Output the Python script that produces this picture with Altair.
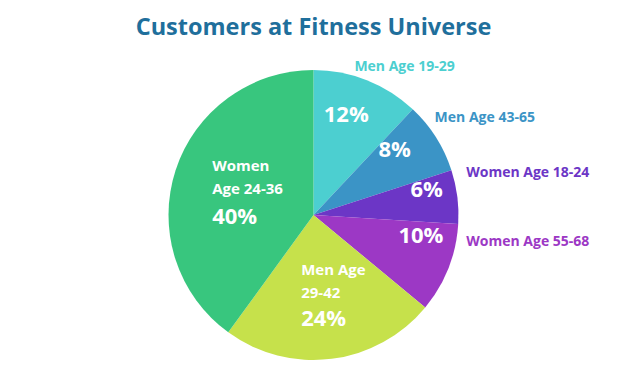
import math
import altair as alt
import pandas as pd

categories = ["Men Age 19-29", "Men Age 43-65", "Women Age 18-24",
              "Women Age 55-68", "Men Age 29-42", "Women Age 24-36"]
shares = [12, 8, 6, 10, 24, 40]
pct_labels = ["12%", "8%", "6%", "10%", "24%", "40%"]
colors = ["#4ccfd0", "#3b94c6", "#6c36c6", "#9c38c5", "#c6e14b", "#38c67e"]

df = pd.DataFrame({
    "category": categories,
    "share": shares,
    "pct": pct_labels,
    "idx": list(range(len(categories))),
})

FONT = "Open Sans"
theta_scale = alt.Scale(domain=[0, 100], range=[0, 2 * math.pi])
color_scale = alt.Scale(domain=categories, range=colors)

pie = alt.Chart(df).mark_arc(outerRadius=145).encode(
    theta=alt.Theta("share:Q", stack=True, scale=theta_scale),
    color=alt.Color("category:N", scale=color_scale, legend=None),
    order=alt.Order("idx:Q", sort="ascending"),
)


def label(cat, text, radius, dx, dy, size, color=None, align="center", line_height=None):
    kw = dict(radius=radius, dx=dx, dy=dy, align=align, baseline="middle",
              font=FONT, fontWeight="bold", fontSize=size)
    if line_height:
        kw["lineHeight"] = line_height
    enc = dict(theta=alt.Theta("mid:Q", scale=theta_scale), text=text)
    if color is None:
        enc["color"] = alt.Color("category:N", scale=color_scale, legend=None)
    else:
        kw["color"] = color
    return (
        alt.Chart(df)
        .transform_window(cum="sum(share)", sort=[alt.SortField("idx")], frame=[None, 0])
        .transform_calculate(mid="datum.cum - datum.share / 2")
        .transform_filter(alt.datum.category == cat)
        .mark_text(**kw)
        .encode(**enc)
    )


pct = alt.Text("pct:N")
name = alt.Text("category:N")
W = "white"

layers = [
    pie,
    # percentages inside small slices
    label("Men Age 19-29", pct, 108, -7, 0, 22, W),
    label("Men Age 43-65", pct, 108, -10, -7, 22, W),
    label("Women Age 18-24", pct, 108, 6, -11, 22, W),
    label("Women Age 55-68", pct, 108, 7, -19, 22, W),
    # big slices: name + percentage
    label("Women Age 24-36", alt.value(["Women", "Age 24-36"]), 75, -30, -26, 15, W, "left", 23),
    label("Women Age 24-36", pct, 75, -30, 25, 22, W, "left"),
    label("Men Age 29-42", alt.value(["Men Age", "29-42"]), 77, -22, -21, 15, W, "left", 23),
    label("Men Age 29-42", pct, 77, -22, 28, 22, W, "left"),
    # outside labels
    label("Men Age 19-29", name, 160, -18, 1, 14, None, "left"),
    label("Men Age 43-65", name, 160, -14, -11, 14, None, "left"),
    label("Women Age 18-24", name, 160, -6, -22, 14, None, "left"),
    label("Women Age 55-68", name, 160, 4, -32, 14, None, "left"),
]

chart = alt.layer(*layers).properties(
    width=611,
    height=360,
    autosize=alt.AutoSizeParams(type="fit", contains="padding"),
    padding={"top": 9, "left": 0, "right": 0, "bottom": 0},
    title=alt.TitleParams(
        "Customers at Fitness Universe",
        fontSize=23.5, font=FONT, fontWeight="bold", color="#1f6f9c",
        anchor="middle", offset=21,
    ),
).configure_view(stroke=None)

chart.save("out.html", embed_options={"renderer": "svg", "actions": False})
